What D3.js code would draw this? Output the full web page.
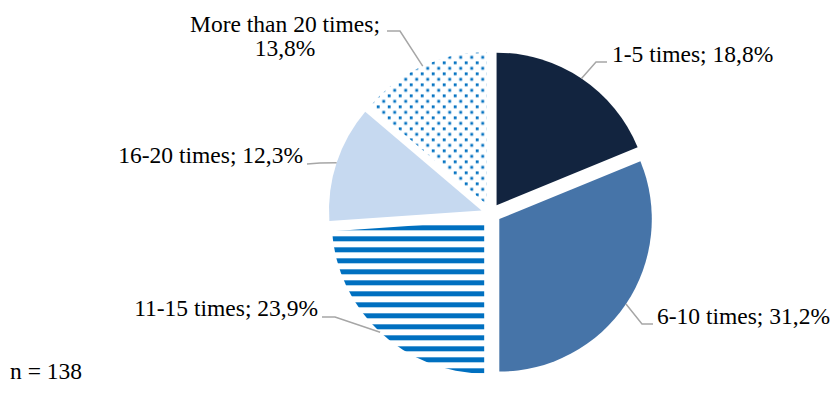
<!DOCTYPE html>
<html>
<head>
<meta charset="utf-8">
<script src="https://cdn.jsdelivr.net/npm/d3@7"></script>
<style>
  body { margin: 0; background: #fff; }
</style>
</head>
<body>
<svg id="chart" width="836" height="403"></svg>
<script>
// data
var categories = ["1-5 times", "6-10 times", "11-15 times", "16-20 times", "More than 20 times"];
var shares = [18.8, 31.2, 23.9, 12.3, 13.8];
var sampleSize = 138;

var fills = ["#12243f", "#4674a8", "url(#stripes)", "#c6d9f0", "url(#dots)"];

// label placement (elbow of leader, end of leader, text spot)
var labelLayout = [
    { elbow: [596, 62], end: [607, 62], tx: 612, ty: 62, anchor: "start" },
    { elbow: [642, 324], end: [653, 324], tx: 657, ty: 324, anchor: "start" },
    { elbow: [335, 317], end: [322, 317], tx: 318, ty: 316, anchor: "end" },
    { elbow: [320, 163], end: [307, 164], tx: 303, ty: 163, anchor: "end" },
    { elbow: [400, 31], end: [387, 31], tx: 285, ty: 32, anchor: "middle" }
];

var fontFamily = "'Liberation Serif', 'Times New Roman', Tinos, 'DejaVu Serif', serif";
var fontSize = 23.5;

var cx = 491, cy = 213.5, radius = 152.5, explode = 10;

var svg = d3.select("#chart");
svg.append("rect").attr("width", 836).attr("height", 403).attr("fill", "#fff");

var defs = svg.append("defs");
var stripes = defs.append("pattern")
    .attr("id", "stripes")
    .attr("patternUnits", "userSpaceOnUse")
    .attr("width", 11).attr("height", 11)
    .attr("y", 229 - cy);
stripes.append("rect").attr("width", 11).attr("height", 11).attr("fill", "#fff");
stripes.append("rect").attr("width", 11).attr("height", 5).attr("fill", "#0070c0");

var dots = defs.append("pattern")
    .attr("id", "dots")
    .attr("patternUnits", "userSpaceOnUse")
    .attr("width", 11).attr("height", 11);
dots.append("rect").attr("width", 11).attr("height", 11).attr("fill", "#fff");
dots.append("rect").attr("x", 0).attr("y", 0).attr("width", 2.8).attr("height", 2.8).attr("fill", "#0070c0");
dots.append("rect").attr("x", 5.5).attr("y", 5.5).attr("width", 2.8).attr("height", 2.8).attr("fill", "#0070c0");

var pie = d3.pie().sort(null).value(function (d) { return d; });
var arcs = pie(shares);
var arc = d3.arc().innerRadius(0).outerRadius(radius);

function offsetOf(a) {
    var mid = (a.startAngle + a.endAngle) / 2;
    return [Math.sin(mid) * explode, -Math.cos(mid) * explode];
}

var g = svg.append("g").attr("transform", "translate(" + cx + "," + cy + ")");

g.selectAll("path.slice")
    .data(arcs)
    .enter()
    .append("path")
    .attr("class", "slice")
    .attr("transform", function (d) {
        var o = offsetOf(d);
        return "translate(" + o[0] + "," + o[1] + ")";
    })
    .attr("d", arc)
    .attr("fill", function (d, i) { return fills[i]; });

// leader lines and labels
var fmt = function (v) { return d3.format(".1f")(v).replace(".", ",") + "%"; };

arcs.forEach(function (a, i) {
    var mid = (a.startAngle + a.endAngle) / 2;
    var o = offsetOf(a);
    var px = cx + o[0] + Math.sin(mid) * radius;
    var py = cy + o[1] - Math.cos(mid) * radius;
    var L = labelLayout[i];
    svg.append("polyline")
        .attr("points", [[px, py], L.elbow, L.end].map(function (p) { return p.join(","); }).join(" "))
        .attr("fill", "none")
        .attr("stroke", "#a6a6a6")
        .attr("stroke-width", 1.5);

    var t = svg.append("text")
        .attr("x", L.tx).attr("y", L.ty)
        .attr("font-family", fontFamily)
        .attr("font-size", fontSize)
        .attr("fill", "#000")
        .attr("text-anchor", L.anchor);
    if (L.anchor === "middle") {
        t.append("tspan").attr("x", L.tx).text(categories[i] + ";");
        t.append("tspan").attr("x", L.tx).attr("dy", 23.5).text(fmt(shares[i]));
    } else {
        t.text(categories[i] + "; " + fmt(shares[i]));
    }
});

svg.append("text")
    .attr("x", 10).attr("y", 379)
    .attr("font-family", fontFamily)
    .attr("font-size", fontSize)
    .attr("fill", "#000")
    .text("n = " + sampleSize);
</script>
</body>
</html>
